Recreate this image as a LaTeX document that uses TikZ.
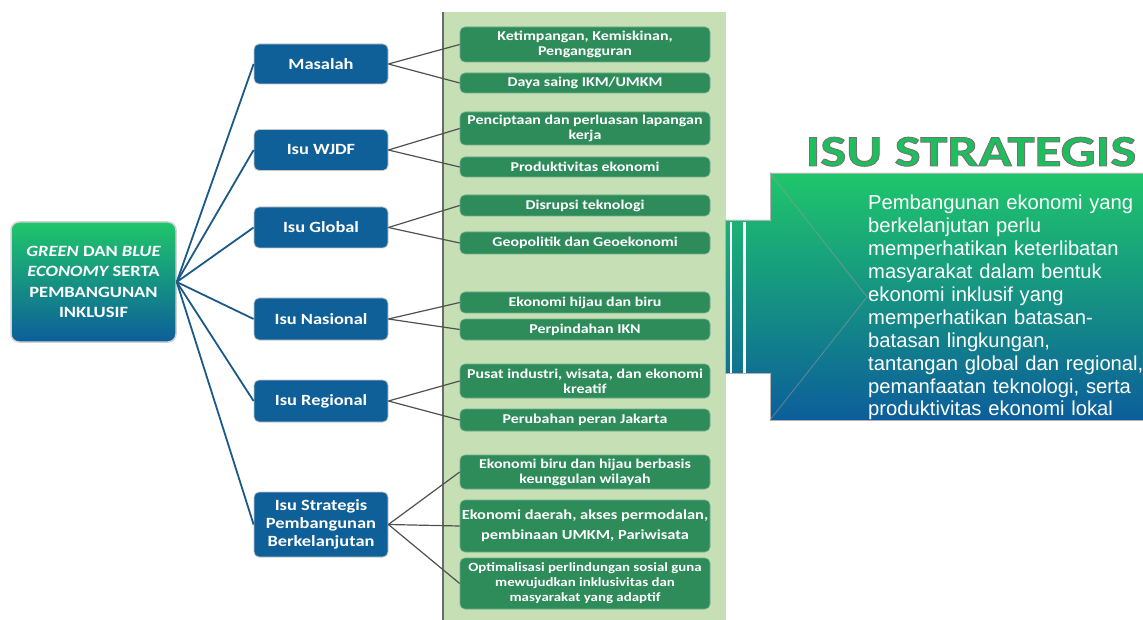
\documentclass[tikz,border=0pt]{standalone}
\usepackage{fontspec}
\newfontfamily\boxfont{Carlito}[FakeStretch=1.18]
\newfontfamily\titlefont{Carlito}[FakeStretch=1.25]
\newfontfamily\parafont{Liberation Sans}

\definecolor{panelgreen}{HTML}{C6DFB5}
\definecolor{panelline}{HTML}{6A6A6A}
\definecolor{boxgreen}{HTML}{2E8C5A}
\definecolor{nodeblue}{HTML}{0F6098}
\definecolor{rootline}{HTML}{1B5A86}
\definecolor{linkgray}{HTML}{505050}
\definecolor{gradtop}{HTML}{1FC66B}
\definecolor{gradbottom}{HTML}{0C5E9B}
\definecolor{titlegreen}{HTML}{1DBE5C}

% filled glyphs with a thin grey edge
\newcommand{\outlinedtext}[1]{%
  \special{pdf:literal direct 2 Tr 0.9 w 0.45 0.45 0.45 RG}#1\special{pdf:literal direct 0 Tr}}

\tikzset{
  root/.style={rounded corners=8pt, top color=gradtop, bottom color=gradbottom,
    draw=gray!35, line width=1.5pt, text=white, align=center,
    font=\boxfont\bfseries\fontsize{15.7}{20.5}\selectfont,
    minimum width=165pt, minimum height=120pt, inner sep=0pt},
  issue/.style={rounded corners=5pt, fill=nodeblue, draw=gray!45, line width=0.8pt,
    text=white, align=center, font=\boxfont\bfseries\fontsize{15.6}{18}\selectfont,
    minimum width=134pt, inner sep=0pt},
  item/.style={rounded corners=5pt, fill=boxgreen, draw=boxgreen!70!white, line width=0.6pt,
    text=white, align=center, font=\boxfont\bfseries\fontsize{13.5}{15}\selectfont,
    minimum width=250pt, inner xsep=0pt, inner ysep=0pt},
  rootlink/.style={draw=rootline, line width=1.8pt},
  itemlink/.style={draw=linkgray, line width=1.2pt},
}

\begin{document}
\begin{tikzpicture}[x=1pt, y=-1pt]
\useasboundingbox (0,0) rectangle (1143,620);

% light green column behind the detail boxes
\fill[panelgreen] (443,12) rectangle (726,620);
\draw[panelline, line width=1.5pt] (443,12) -- (443,620);

% root
\node[root] (root) at (93.5,282) {{\itshape GREEN} DAN {\itshape BLUE}\\{\itshape ECONOMY} SERTA\\PEMBANGUNAN\\INKLUSIF};

% issue categories
\node[issue, minimum height=40pt] (masalah)  at (321,64)    {Masalah};
\node[issue, minimum height=41pt] (wjdf)     at (321,150)   {Isu WJDF};
\node[issue, minimum height=41pt] (global)   at (321,227.5) {Isu Global};
\node[issue, minimum height=42pt] (nasional) at (321,319)   {Isu Nasional};
\node[issue, minimum height=42pt] (regional) at (321,401)   {Isu Regional};
\node[issue, minimum height=65pt] (strategis) at (321,524.5) {Isu Strategis\\Pembangunan\\Berkelanjutan};

% detail items
\node[item, minimum height=35pt] (i1)  at (585,44.5)  {Ketimpangan, Kemiskinan,\\Pengangguran};
\node[item, minimum height=20pt] (i2)  at (585,83)    {Daya saing IKM/UMKM};
\node[item, minimum height=33pt] (i3)  at (585,128.5) {Penciptaan dan perluasan lapangan\\kerja};
\node[item, minimum height=20pt] (i4)  at (585,167)   {Produktivitas ekonomi};
\node[item, minimum height=21pt] (i5)  at (585,205.5) {Disrupsi teknologi};
\node[item, minimum height=22pt] (i6)  at (585,243)   {Geopolitik dan Geoekonomi};
\node[item, minimum height=21pt] (i7)  at (585,302.5) {Ekonomi hijau dan biru};
\node[item, minimum height=21pt] (i8)  at (585,329.5) {Perpindahan IKN};
\node[item, minimum height=34pt] (i9)  at (585,381)   {Pusat industri, wisata, dan ekonomi\\kreatif};
\node[item, minimum height=22pt] (i10) at (585,420)   {Perubahan peran Jakarta};
\node[item, minimum height=34pt] (i11) at (585,472)   {Ekonomi biru dan hijau berbasis\\keunggulan wilayah};
\node[item, minimum height=52pt, font=\boxfont\bfseries\fontsize{13.9}{20}\selectfont] (i12) at (585,526) {Ekonomi daerah, akses permodalan,\\pembinaan UMKM, Pariwisata};
\node[item, minimum height=51pt, font=\boxfont\bfseries\fontsize{12.6}{15}\selectfont] (i13) at (585,583.5) {Optimalisasi perlindungan sosial guna\\mewujudkan inklusivitas dan\\masyarakat yang adaptif};

% root to categories
\foreach \n in {masalah,wjdf,global,nasional,regional,strategis}
  \draw[rootlink] (root.east) -- (\n.west);

% categories to items
\draw[itemlink] (masalah.east) -- (i1.west);
\draw[itemlink] (masalah.east) -- (i2.west);
\draw[itemlink] (wjdf.east) -- (i3.west);
\draw[itemlink] (wjdf.east) -- (i4.west);
\draw[itemlink] (global.east) -- (i5.west);
\draw[itemlink] (global.east) -- (i6.west);
\draw[itemlink] (nasional.east) -- (i7.west);
\draw[itemlink] (nasional.east) -- (i8.west);
\draw[itemlink] (regional.east) -- (i9.west);
\draw[itemlink] (regional.east) -- (i10.west);
\draw[itemlink] (strategis.east) -- (i11.west);
\draw[itemlink] (strategis.east) -- (i12.west);
\draw[itemlink] (strategis.east) -- (i13.west);

% strategic issue banner
\path[top color=gradtop, bottom color=gradbottom, draw=gray!60, line width=0.8pt]
  (770,173) -- (1143,173) -- (1143,420) -- (770,420) -- (770,373)
  -- (725,373) -- (725,220) -- (770,220) -- cycle;
\draw[white, line width=2.5pt] (731,222) -- (731,373);
\draw[white, line width=3pt] (744,222) -- (744,373);
\draw[black!40, line width=0.8pt, opacity=0.6] (770,173) -- (867,297) -- (770,420);

\node[anchor=base, inner sep=0pt, text=titlegreen,
  font=\titlefont\bfseries\fontsize{44}{46}\selectfont] (title) at (971,166)
  {\outlinedtext{ISU STRATEGIS}};

\node[anchor=north west, inner sep=0pt, text=white, align=left, text width=300pt,
  font=\parafont\fontsize{20.2}{22.9}\selectfont] (desc) at (868,195)
  {Pembangunan ekonomi yang\\berkelanjutan perlu\\memperhatikan keterlibatan\\masyarakat dalam bentuk\\ekonomi inklusif yang\\memperhatikan batasan-\\batasan lingkungan,\\tantangan global dan regional,\\pemanfaatan teknologi, serta\\produktivitas ekonomi lokal};
\end{tikzpicture}
\end{document}
